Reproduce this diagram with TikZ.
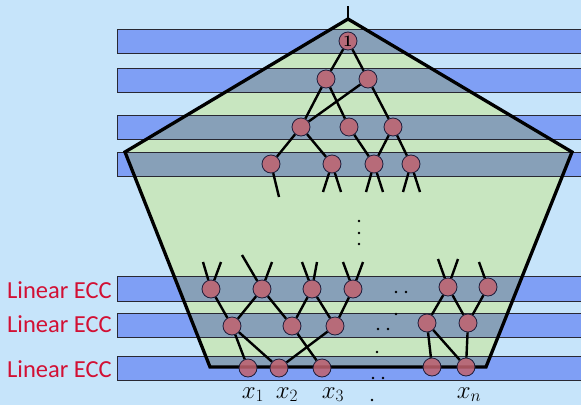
\documentclass[tikz,border=0pt]{standalone}
\usepackage{fontspec}
\newfontfamily\labfont{Carlito}
\definecolor{bgblue}{RGB}{198,228,250}
\definecolor{bandblue}{RGB}{127,159,245}
\definecolor{pentgreen}{RGB}{200,230,192}
\definecolor{overlap}{RGB}{135,160,184}
\definecolor{nodered}{RGB}{192,98,110}
\definecolor{ndline}{RGB}{30,30,60}
\definecolor{bandline}{RGB}{40,40,50}
\definecolor{labred}{RGB}{210,16,52}
\begin{document}
\begin{tikzpicture}[x=1pt,y=-1pt,
  nd/.style={circle,minimum size=18pt,inner sep=0pt,draw=ndline,line width=0.8pt,fill=nodered,fill opacity=0.85,text opacity=1},
  ed/.style={line width=2.4pt,black},
  bandbox/.style={draw=bandline,line width=0.9pt},
  dotmark/.style={fill=black},
  ecc/.style={text=labred,font=\labfont\fontsize{24.5}{26}\selectfont,anchor=base east,inner sep=0pt},
  xlab/.style={font=\fontsize{25}{27}\selectfont,anchor=base,inner sep=0pt}]
\useasboundingbox (0,0) rectangle (581,405);
\fill[bgblue] (0,0) rectangle (581,405);
% bands
\foreach \a/\b in {29/53,68/92,115/139,152/176,276/301,313/337,356/380}
  \fill[bandblue] (117,\a) rectangle (584,\b);
% pentagon
\coordinate (apex) at (348,19);
\coordinate (pr) at (572,152);
\coordinate (pbr) at (486,367);
\coordinate (pbl) at (210,367);
\coordinate (pl) at (125,152);
\coordinate (stem) at (348,6);
\fill[pentgreen] (apex) -- (pr) -- (pbr) -- (pbl) -- (pl) -- cycle;
\begin{scope}
  \clip (apex) -- (pr) -- (pbr) -- (pbl) -- (pl) -- cycle;
  \foreach \a/\b in {29/53,68/92,115/139,152/176,276/301,313/337,356/380}
    \fill[overlap] (117,\a) rectangle (584,\b);
\end{scope}
\foreach \a/\b in {29/53,68/92,115/139,152/176,276/301,313/337,356/380}
  \draw[bandbox] (117,\a) rectangle (584,\b);
\draw[line width=3.3pt,line join=miter] (apex) -- (pr) -- (pbr) -- (pbl) -- (pl) -- cycle;
\draw[line width=1.6pt] (stem) -- (apex);
% top tree nodes
\node[nd,font=\fontsize{16}{16}\selectfont\bfseries] (n1) at (348,41) {1};
\node[nd] (n2a) at (326,79) {};
\node[nd] (n2b) at (368,79) {};
\node[nd] (n3a) at (301,127) {};
\node[nd] (n3b) at (349,127) {};
\node[nd] (n3c) at (393,127) {};
\node[nd] (n4a) at (271,164) {};
\node[nd] (n4b) at (332,164) {};
\node[nd] (n4c) at (374,164) {};
\node[nd] (n4d) at (411,164) {};
% bottom nodes
\node[nd] (a1) at (211,289) {};
\node[nd] (a2) at (262,289) {};
\node[nd] (a3) at (312,289) {};
\node[nd] (a4) at (353,289) {};
\node[nd] (a5) at (448,287) {};
\node[nd] (a6) at (488,287) {};
\node[nd] (b1) at (232,326) {};
\node[nd] (b2) at (292,326) {};
\node[nd] (b3) at (335,326) {};
\node[nd] (b4) at (427,323) {};
\node[nd] (b5) at (468,323) {};
\node[nd] (c1) at (248,368) {};
\node[nd] (c2) at (279,368) {};
\node[nd] (c3) at (322,368) {};
\node[nd] (c4) at (432,367) {};
\node[nd] (c5) at (466,367) {};
% free ends
\coordinate (d1) at (279,197);
\coordinate (d2) at (323,192);
\coordinate (d3) at (341,192);
\coordinate (d4) at (366,192);
\coordinate (d5) at (383,192);
\coordinate (d6) at (403,192);
\coordinate (d7) at (420,192);
\coordinate (u1) at (203,262);
\coordinate (u2) at (221,262);
\coordinate (u3) at (242,255);
\coordinate (u4) at (272,262);
\coordinate (u5) at (302,262);
\coordinate (u6) at (317,262);
\coordinate (u7) at (343,262);
\coordinate (u8) at (363,262);
\coordinate (u9) at (438,259);
\coordinate (u10) at (458,259);
\coordinate (u11) at (479,262);
% edges
\draw[ed] (n1) -- (n2a);
\draw[ed] (n1) -- (n2b);
\draw[ed] (n2a) -- (n3a);
\draw[ed] (n2a) -- (n3b);
\draw[ed] (n2b) -- (n3a);
\draw[ed] (n2b) -- (n3c);
\draw[ed] (n3a) -- (n4a);
\draw[ed] (n3a) -- (n4b);
\draw[ed] (n3b) -- (n4c);
\draw[ed] (n3c) -- (n4c);
\draw[ed] (n3c) -- (n4d);
\draw[ed] (n4a) -- (d1);
\draw[ed] (n4b) -- (d2);
\draw[ed] (n4b) -- (d3);
\draw[ed] (n4c) -- (d4);
\draw[ed] (n4c) -- (d5);
\draw[ed] (n4d) -- (d6);
\draw[ed] (n4d) -- (d7);
\draw[ed] (u1) -- (a1);
\draw[ed] (u2) -- (a1);
\draw[ed] (u3) -- (a2);
\draw[ed] (u4) -- (a2);
\draw[ed] (u5) -- (a3);
\draw[ed] (u6) -- (a3);
\draw[ed] (u7) -- (a4);
\draw[ed] (u8) -- (a4);
\draw[ed] (u9) -- (a5);
\draw[ed] (u10) -- (a5);
\draw[ed] (u11) -- (a6);
\draw[ed] (a1) -- (b1);
\draw[ed] (a2) -- (b1);
\draw[ed] (a2) -- (b2);
\draw[ed] (a3) -- (b2);
\draw[ed] (a3) -- (b3);
\draw[ed] (a4) -- (b3);
\draw[ed] (b1) -- (c1);
\draw[ed] (b1) -- (c2);
\draw[ed] (b2) -- (c3);
\draw[ed] (b3) -- (c2);
\draw[ed] (a5) -- (b4);
\draw[ed] (a5) -- (b5);
\draw[ed] (a6) -- (b5);
\draw[ed] (b4) -- (c4);
\draw[ed] (b4) -- (c5);
\draw[ed] (b5) -- (c5);
% dots
\foreach \p in {(359,221),(359,233),(359,244),(396,292),(406,292),(396,314),(378,329),(388,329),(377,352),(373,378),(383,378),(372,400)}
  \fill[dotmark] \p circle (1.3pt);
% labels
\node[ecc] (l1) at (112,298) {Linear ECC};
\node[ecc] (l2) at (112,332) {Linear ECC};
\node[ecc] (l3) at (112,377) {Linear ECC};
\node[xlab] (x1) at (253,398) {$x_1$};
\node[xlab] (x2) at (287,398) {$x_2$};
\node[xlab] (x3) at (333,398) {$x_3$};
\node[xlab] (xn) at (469,398) {$x_n$};
\end{tikzpicture}
\end{document}
